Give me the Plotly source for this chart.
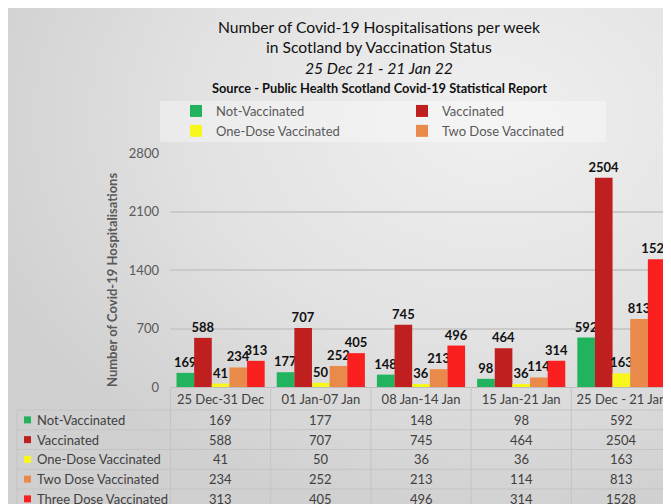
import base64
import plotly.graph_objects as go

# ---------------- data ----------------
categories = ["25 Dec-31 Dec", "01 Jan-07 Jan", "08 Jan-14 Jan", "15 Jan-21 Jan", "25 Dec - 21 Jan"]
series_names = ["Not-Vaccinated", "Vaccinated", "One-Dose Vaccinated", "Two Dose Vaccinated", "Three Dose Vaccinated"]
not_vaccinated = [169, 177, 148, 98, 592]
vaccinated = [588, 707, 745, 464, 2504]
one_dose = [41, 50, 36, 36, 163]
two_dose = [234, 252, 213, 114, 813]
three_dose = [313, 405, 496, 314, 1528]
y_ticks = [0, 700, 1400, 2100, 2800]

series_values = [not_vaccinated, vaccinated, one_dose, two_dose, three_dose]
colors = ["#22b35e", "#c01f20", "#f7f71c", "#ea8a4a", "#fb2020"]
in_legend = [True, True, True, True, False]

W, H = 671, 504
OFF = 8  # page body margin offset (reference pixels -> figure pixels)
# plot area in reference pixels: left 170, right 672, top 153, bottom 387
L = 170 - OFF
R = W - (672 - OFF)
T = 153 - OFF
B = H - (387 - OFF)
PH = H - T - B
PW = W - L - R
FONT = "Lato"


def py(p):
    """reference pixel y -> paper y"""
    return (H - B - (p - OFF)) / PH


def px(p):
    """reference pixel x -> paper x"""
    return ((p - OFF) - L) / PW


fig = go.Figure()
for name, vals, col, leg in zip(series_names, series_values, colors, in_legend):
    fig.add_trace(go.Bar(
        x=categories, y=vals, name=name, marker_color=col,
        marker_line_width=0,
        text=[str(v) for v in vals], textposition="outside",
        textfont=dict(family=FONT, size=13, color="#111111", weight="bold"),
        constraintext="none", cliponaxis=False, showlegend=leg,
    ))

# background gradient
svg = ('<svg xmlns="http://www.w3.org/2000/svg" width="664" height="496" viewBox="0 0 664 496" '
       'preserveAspectRatio="none"><defs><radialGradient id="g" cx="0.72" cy="0.22" r="0.8">'
       '<stop offset="0" stop-color="#f0f0f0"/><stop offset="0.55" stop-color="#e2e2e2"/>'
       '<stop offset="1" stop-color="#d0d0d0"/></radialGradient></defs>'
       '<rect width="664" height="496" fill="url(#g)"/></svg>')
src = "data:image/svg+xml;base64," + base64.b64encode(svg.encode()).decode()

shapes = []
annotations = []
line_col = "#c4c4c4"

# legend backdrop
shapes.append(dict(type="rect", xref="paper", yref="paper", x0=px(160), x1=px(606), y0=py(142), y1=py(101),
                   fillcolor="rgba(255,255,255,0.35)", line_width=0, layer="below"))

# title lines
title_lines = [
    ("Number of Covid-19 Hospitalisations per week", 27, 15.7, "normal", "normal"),
    ("in Scotland by Vaccination Status", 47, 15.7, "normal", "normal"),
    ("25 Dec 21 - 21 Jan 22", 68, 15.7, "normal", "italic"),
    ("Source - Public Health Scotland Covid-19 Statistical Report", 88, 12.8, "bold", "normal"),
]
for txt, yp, sz, wt, st in title_lines:
    annotations.append(dict(text=txt, xref="paper", yref="paper", x=px(379), y=py(yp),
                            xanchor="center", yanchor="middle", showarrow=False,
                            font=dict(family=FONT, size=sz, color="#111111", weight=wt, style=st)))

# y-axis title
annotations.append(dict(text="<b>Number of Covid-19 Hospitalisations</b>", xref="paper", yref="paper",
                        x=px(112), y=py(280), xanchor="center", yanchor="middle", textangle=-90,
                        showarrow=False, font=dict(family=FONT, size=13, color="#595959")))

# data table
row_borders = [410, 429.75, 449.5, 469.25, 489]
row_h = 19.75
for rb in row_borders:
    shapes.append(dict(type="line", xref="paper", yref="paper", x0=px(17), x1=px(672), y0=py(rb), y1=py(rb),
                       line=dict(color=line_col, width=1)))
shapes.append(dict(type="line", xref="paper", yref="paper", x0=px(17), x1=px(17), y0=py(410), y1=py(512),
                   line=dict(color=line_col, width=1)))
for i in range(len(categories) + 1):
    shapes.append(dict(type="line", xref="x", yref="paper", x0=i - 0.5, x1=i - 0.5, y0=py(387), y1=py(512),
                       line=dict(color=line_col, width=1)))

for r, (name, vals, col) in enumerate(zip(series_names, series_values, colors)):
    yc = row_borders[r] + row_h / 2
    shapes.append(dict(type="rect", xref="paper", yref="paper", x0=px(24), x1=px(31),
                       y0=py(yc + 3.5), y1=py(yc - 3.5), fillcolor=col, line_width=0))
    annotations.append(dict(text=name, xref="paper", yref="paper", x=px(35), y=py(yc),
                            xanchor="left", yanchor="middle", showarrow=False,
                            font=dict(family=FONT, size=13, color="#404040")))
    for i, v in enumerate(vals):
        annotations.append(dict(text=str(v), xref="x", yref="paper", x=i, y=py(yc),
                                xanchor="center", yanchor="middle", showarrow=False,
                                font=dict(family=FONT, size=13, color="#404040")))

fig.update_layout(
    width=W, height=H,
    margin=dict(l=L, r=R, t=T, b=B, autoexpand=False),
    paper_bgcolor="white", plot_bgcolor="rgba(0,0,0,0)",
    barmode="group", bargap=0.12, bargroupgap=0,
    font=dict(family=FONT, color="#595959"),
    images=[dict(source=src, xref="paper", yref="paper", x=px(OFF - 1), y=py(OFF),
                 sizex=(W + 1) / PW, sizey=H / PH, sizing="stretch",
                 xanchor="left", yanchor="top", layer="below")],
    shapes=shapes, annotations=annotations,
    legend=dict(orientation="h", x=px(176), y=py(96), xanchor="left", yanchor="top",
                entrywidth=181, bgcolor="rgba(0,0,0,0)", itemwidth=30,
                font=dict(family=FONT, size=13, color="#595959"), traceorder="normal"),
    showlegend=True,
)
fig.update_yaxes(range=[0, 2800], tickvals=y_ticks, showgrid=True, gridcolor="#cacaca", gridwidth=1.6,
                 zeroline=False, showline=False, ticks="", ticklabelstandoff=10,
                 tickfont=dict(family=FONT, size=13, color="#595959"))
fig.update_xaxes(showline=True, linecolor="#bdbdbd", linewidth=1, ticks="",
                 tickfont=dict(family=FONT, size=13, color="#404040"))

fig.write_html("out.html")
